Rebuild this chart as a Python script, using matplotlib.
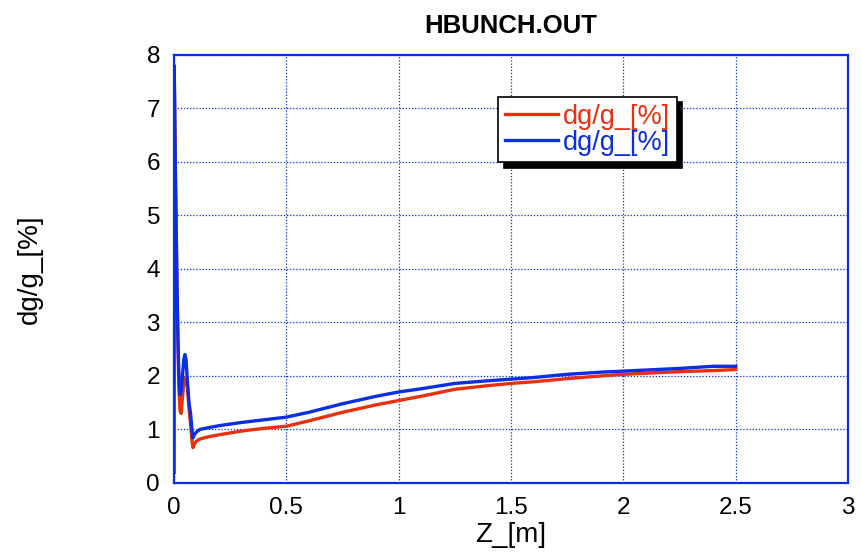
import matplotlib.pyplot as plt

# data
z = [0, 0.001, 0.003, 0.006, 0.01, 0.014, 0.018, 0.022, 0.027, 0.032, 0.038,
     0.044, 0.049, 0.054, 0.06, 0.067, 0.074, 0.08, 0.085, 0.09, 0.1, 0.115,
     0.15, 0.2, 0.3, 0.4, 0.5, 0.6, 0.75, 0.9, 1.0, 1.1, 1.25, 1.4, 1.5, 1.6,
     1.75, 1.9, 2.0, 2.1, 2.25, 2.4, 2.5]
dg_blue = [0.2, 7.8, 7.2, 6.0, 4.8, 3.6, 2.7, 2.0, 1.65, 1.7, 2.0, 2.3, 2.4,
           2.3, 1.9, 1.5, 1.3, 1.0, 0.84, 0.9, 0.95, 1.0, 1.03, 1.07, 1.13,
           1.18, 1.23, 1.32, 1.48, 1.62, 1.70, 1.76, 1.86, 1.91, 1.94, 1.97,
           2.03, 2.07, 2.09, 2.11, 2.14, 2.18, 2.18]
dg_red = [0.2, 7.7, 7.1, 5.9, 4.7, 3.5, 2.6, 1.8, 1.35, 1.3, 1.6, 1.85, 1.95,
          1.9, 1.8, 1.4, 1.1, 0.8, 0.66, 0.72, 0.78, 0.82, 0.86, 0.9, 0.97,
          1.02, 1.06, 1.16, 1.32, 1.46, 1.54, 1.62, 1.75, 1.82, 1.86, 1.89,
          1.95, 2.0, 2.03, 2.05, 2.08, 2.1, 2.12]
x_ticks = [0, 0.5, 1, 1.5, 2, 2.5, 3]
x_ticklabels = ["0", "0.5", "1", "1.5", "2", "2.5", "3"]
y_ticks = [0, 1, 2, 3, 4, 5, 6, 7, 8]

RED = "#e8300c"
BLUE = "#0a2ee0"

plt.rcParams['font.family'] = ['Liberation Sans', 'DejaVu Sans']

fig = plt.figure(figsize=(8.61, 5.59), dpi=100)
ax = fig.add_axes([0.202, 0.136, 0.783, 0.766])

ax.plot(z, dg_red, color=RED, lw=2.4, label="dg/g_[%]")
ax.plot(z, dg_blue, color=BLUE, lw=2.4, label="dg/g_[%]")

ax.set_xlim(0, 3)
ax.set_ylim(0, 8)
ax.set_xticks(x_ticks)
ax.set_xticklabels(x_ticklabels)
ax.set_yticks(y_ticks)
ax.tick_params(length=0, labelsize=17.5, pad=10)
ax.grid(True, color=BLUE, linestyle=(0, (1, 1.5)), linewidth=0.9)
for sp in ax.spines.values():
    sp.set_color(BLUE)
    sp.set_linewidth(1.6)

ax.set_xlabel("Z_[m]", fontsize=20, labelpad=2)
ax.set_ylabel("dg/g_[%]", fontsize=20, va='center')
ax.yaxis.set_label_coords(-0.214, 0.5)
ax.set_title("HBUNCH.OUT", fontsize=18.5, fontweight='bold', pad=16)

leg = ax.legend(loc='upper left', bbox_to_anchor=(0.481, 0.902), borderaxespad=0,
                fontsize=19.5, labelcolor='linecolor', handlelength=1.95,
                handletextpad=0.18, borderpad=0.25, labelspacing=0.0,
                fancybox=False, framealpha=1, edgecolor='black',
                shadow={'color': 'black', 'alpha': 1, 'ox': 4, 'oy': -4})
leg.get_frame().set_linewidth(1.2)

fig.savefig("out.png", dpi=100)
